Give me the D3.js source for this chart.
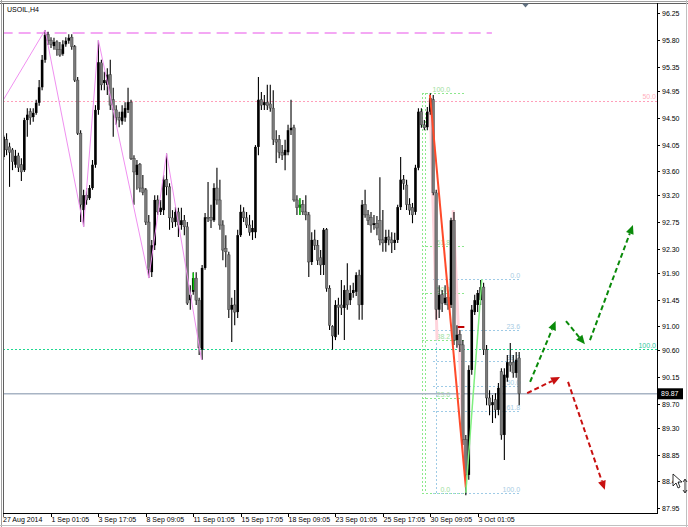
<!DOCTYPE html>
<html><head><meta charset="utf-8">
<script src="https://cdn.jsdelivr.net/npm/d3@7"></script>
<style>body{margin:0;background:#fff;} svg{display:block;} text{font-family:"Liberation Sans",Arial,sans-serif;}</style>
</head><body><svg id="c" width="688" height="527"></svg>
<script>
// ---------- DATA ----------
const symbolTitle = "USOIL,H4";
const opens = [93.84,94.13,94.01,93.96,93.71,93.86,93.71,93.62,94.46,94.60,
94.51,94.58,94.75,95.01,95.47,95.89,95.80,95.70,95.77,95.64,
95.57,95.73,95.79,95.85,95.69,95.13,94.24,92.95,93.20,93.15,
93.32,93.71,94.63,95.42,95.08,95.05,95.22,94.80,94.63,94.50,
94.44,94.50,94.63,94.76,93.82,93.54,93.71,93.32,93.29,92.75,
91.91,92.36,93.12,92.92,92.95,93.46,93.34,92.82,92.75,92.92,
92.70,92.78,92.67,91.44,91.58,91.81,91.44,90.61,91.98,92.83,
92.83,92.78,93.32,93.12,92.70,92.31,92.20,91.28,91.36,91.24,
92.53,92.92,92.82,92.70,92.58,92.58,94.01,94.80,94.71,94.76,
94.73,94.66,94.13,94.13,93.92,93.87,93.92,94.29,94.33,93.12,
92.99,93.04,92.92,92.87,92.08,92.45,92.36,92.15,92.03,92.62,
91.64,91.00,90.82,91.36,91.36,91.31,91.61,91.44,91.56,91.58,
91.86,91.36,93.04,92.87,92.83,92.70,92.73,92.78,92.45,92.40,
92.50,92.45,92.40,92.45,93.00,93.46,93.37,93.04,92.99,92.92,
93.66,94.60,94.38,94.34,94.60,94.80,93.24,91.28,91.53,91.39,
91.48,91.36,92.78,90.77,90.86,90.69,89.10,88.51,90.27,91.24,
91.36,91.44,91.66,90.61,89.80,89.68,89.77,89.60,90.24,89.18,
90.14,90.40,90.40,90.22,90.47];
const highs = [94.21,94.24,94.08,93.99,93.96,93.91,93.82,94.50,94.66,94.66,
94.66,94.80,95.13,95.55,95.97,95.94,95.85,95.84,95.80,95.77,
95.80,95.85,95.90,95.90,95.72,95.18,94.29,93.29,93.32,93.37,
93.79,94.71,95.80,95.47,95.27,95.33,95.47,95.00,94.71,94.60,
94.71,94.76,95.00,94.80,93.87,93.79,93.74,93.54,93.32,92.87,
92.45,93.20,93.20,93.12,93.54,93.90,93.40,92.95,93.00,92.99,
92.99,92.87,92.75,91.69,91.91,91.91,91.48,92.03,92.90,93.42,
93.04,93.40,93.66,93.46,92.78,92.53,92.25,91.48,91.61,92.62,
93.04,93.00,92.92,92.87,92.78,94.04,95.18,94.93,94.88,95.05,
95.05,94.96,94.29,94.21,94.04,94.13,94.38,94.80,94.38,93.20,
93.15,93.12,93.20,92.92,92.58,92.62,92.45,92.28,92.65,92.65,
91.69,91.02,91.44,91.48,91.78,91.69,92.06,91.69,91.73,91.91,
91.95,93.12,93.29,92.95,92.92,92.87,92.85,93.50,92.95,92.62,
92.62,92.58,92.57,93.04,93.84,93.54,93.46,93.15,93.07,93.71,
94.66,94.66,94.46,94.68,94.91,94.88,93.29,91.69,91.61,91.69,
91.58,92.82,92.92,91.02,90.94,90.77,89.18,90.35,91.36,91.53,
91.61,91.78,91.73,90.69,89.93,89.85,89.88,90.05,90.30,90.30,
90.52,90.72,90.52,90.57,90.57];
const lows = [93.79,93.87,93.34,93.62,93.66,93.59,93.44,93.59,94.18,94.38,
94.43,94.55,94.70,94.96,95.42,95.72,95.67,95.64,95.54,95.52,
95.54,95.69,95.74,95.64,95.10,94.21,92.75,92.67,93.04,93.12,
93.29,93.66,94.55,94.96,94.96,94.88,94.63,94.18,94.38,94.34,
94.38,94.43,94.58,93.79,93.04,93.29,93.25,93.20,92.70,91.81,
91.83,92.28,92.87,92.87,92.87,93.20,92.62,92.65,92.67,92.50,
92.62,92.53,91.36,91.28,91.53,91.36,90.52,90.44,91.95,92.75,
92.65,92.75,93.04,92.62,92.11,91.99,91.14,90.74,91.02,91.14,
92.50,92.75,92.65,92.52,92.45,92.48,93.87,94.63,94.63,94.63,
94.60,94.04,93.74,93.82,93.79,93.62,93.87,94.21,93.09,92.87,
92.87,92.87,92.78,91.83,92.03,92.28,92.03,91.86,91.86,91.58,
90.94,90.61,90.77,90.86,91.19,90.77,91.28,91.36,91.48,91.51,
91.11,91.11,92.82,92.70,92.57,92.62,92.53,92.36,92.25,92.25,
92.36,92.23,92.28,92.40,92.95,93.29,92.95,92.87,92.73,92.87,
93.62,94.33,94.29,94.29,94.55,93.20,91.11,91.14,91.24,91.36,
91.28,91.31,90.69,90.64,90.57,89.01,88.17,88.43,90.19,91.19,
91.24,91.36,90.52,89.68,89.51,89.38,89.46,89.51,89.10,88.76,
90.07,90.24,90.14,90.14,89.68];
const closes = [94.18,93.96,93.92,93.76,93.86,93.66,93.59,94.46,94.55,94.50,
94.58,94.75,95.01,95.47,95.89,95.80,95.73,95.77,95.64,95.55,
95.73,95.79,95.84,95.69,95.13,94.24,93.04,93.20,93.12,93.32,
93.71,94.63,95.43,95.05,95.13,95.22,94.71,94.63,94.50,94.46,
94.60,94.66,94.76,93.82,93.59,93.71,93.32,93.25,92.75,91.95,
92.36,93.12,92.92,92.99,93.46,93.34,92.82,92.75,92.92,92.70,
92.78,92.67,91.39,91.53,91.81,91.44,90.64,91.98,92.83,92.82,
92.78,93.32,93.12,92.70,92.28,92.25,91.28,91.36,91.24,92.53,
92.92,92.82,92.70,92.58,92.65,94.01,94.80,94.71,94.76,94.70,
94.66,94.13,94.09,93.92,93.87,93.96,94.29,94.33,93.12,92.99,
93.04,92.92,92.87,92.08,92.45,92.36,92.11,92.03,92.62,91.64,
91.02,90.84,91.36,91.32,91.31,91.61,91.36,91.56,91.61,91.86,
91.36,93.04,92.87,92.78,92.70,92.73,92.65,92.45,92.40,92.50,
92.45,92.40,92.45,93.00,93.46,93.40,93.04,92.95,92.87,93.66,
94.60,94.38,94.33,94.60,94.83,93.24,91.28,91.53,91.39,91.48,
91.36,92.78,90.77,90.86,90.69,89.10,88.51,90.27,91.28,91.44,
91.56,91.66,90.61,89.80,89.68,89.73,89.60,89.97,89.18,90.19,
90.40,90.35,90.22,90.44,89.87];
const currentPrice = 89.87;
const yTickValues = [96.25,95.80,95.35,94.95,94.50,94.05,93.60,93.20,92.75,92.30,91.90,91.45,91.00,90.60,90.15,89.70,89.30,88.85,88.40,87.95];
const yTickLabels = ["96.25","95.80","95.35","94.95","94.50","94.05","93.60","93.20","92.75","92.30","91.90","91.45","91.00","90.60","90.15","89.70","89.30","88.85","88.40","87.95"];
const xTickIndex = [0,16,32,48,64,80,96,112,128,144,160];
const xTickLabels = ["27 Aug 2014","1 Sep 01:05","3 Sep 17:05","8 Sep 09:05","11 Sep 01:05","15 Sep 17:05","18 Sep 09:05","23 Sep 01:05","25 Sep 17:05","30 Sep 09:05","3 Oct 01:05"];
// drawn objects (bar index, price)
const zigzagPoints = [[-0.3,94.78],[14,95.97],[27,92.67],[32,95.80],[49,91.81],[55,93.90],[66.8,90.44]];
const topDashedLine = {from:-1, to:164.8, price:95.92};
const pinkLevel = {price:94.78, label:"50.0"};
const tealLevel = {price:90.62, label:"100.0"};
const fibLevels = [0,23.6,38.2,50,61.8,100];
const fibGreen = {from:141.2, to:156.1, labelAt:150.7, p0:88.21, p100:94.91, verticals:[141.2,142.2]};
const fibBlue = {from:144.9, to:174.3, labelAt:174.3, p0:91.79, p100:88.21, verticals:[145.9]};
const redTrend = [[143.9,94.88],[156.0,88.30]];
const greenTrend = [[156.0,88.21],[161.4,91.79]];
const pinkShades = [[[143.9,94.80],[146.3,90.77]],[[151.7,92.95],[155.6,88.60]]];
const greenMarks = [[64,91.90,91.61],[100,93.15,92.87]];
const redMark = [153.3,155.5,90.99];
const greenArrows = [[[177.7,90.07],[186.3,91.09]],[[189.8,91.09],[196.2,90.70]],[[197.9,90.77],[212.4,92.70]]];
const redArrows = [[[176.7,89.88],[187.8,90.15]],[[190.5,90.07],[202.9,88.26]]];

// ---------- DRAW ----------
const W=688,H=527;
const plot={l:3,t:4,r:657,b:513};
const x=d3.scaleLinear().domain([0,220]).range([3.6,3.6+220*2.963]);
const y=d3.scaleLinear().domain([87.95,96.25]).range([508.3,13.3]);
const svg=d3.select('#c');
svg.append('rect').attr('width',W).attr('height',H).attr('fill','#fff');
// window frame
svg.append('line').attr('x1',0).attr('x2',W).attr('y1',1.5).attr('y2',1.5).attr('stroke','#a0a0a0').attr('stroke-width',1);
svg.append('line').attr('x1',0).attr('x2',W).attr('y1',3.5).attr('y2',3.5).attr('stroke','#606060').attr('stroke-width',1);
svg.append('line').attr('x1',1.5).attr('x2',1.5).attr('y1',0).attr('y2',H).attr('stroke','#a0a0a0');
svg.append('line').attr('x1',3.5).attr('x2',3.5).attr('y1',3).attr('y2',517).attr('stroke','#606060');
svg.append('line').attr('x1',0).attr('x2',W).attr('y1',525.5).attr('y2',525.5).attr('stroke','#c0c0c0');
svg.append('line').attr('x1',686.5).attr('x2',686.5).attr('y1',0).attr('y2',H).attr('stroke','#c0c0c0');

const defs=svg.append('defs');
defs.append('clipPath').attr('id','clip').append('rect').attr('x',plot.l+1).attr('y',plot.t).attr('width',plot.r-plot.l-1).attr('height',plot.b-plot.t);
const g=svg.append('g').attr('clip-path','url(#clip)');
const line=d3.line().x(d=>x(d[0])).y(d=>y(d[1]));

// horizontal levels (background)
g.append('line').attr('x1',x(topDashedLine.from)).attr('x2',x(topDashedLine.to)).attr('y1',y(topDashedLine.price)).attr('y2',y(topDashedLine.price))
 .attr('stroke','#f4a8f4').attr('stroke-width',2).attr('stroke-dasharray','12,6');
g.append('line').attr('x1',plot.l).attr('x2',plot.r).attr('y1',Math.round(y(pinkLevel.price))+0.5).attr('y2',Math.round(y(pinkLevel.price))+0.5)
 .attr('stroke','#ff9fba').attr('stroke-dasharray','2,2').attr('shape-rendering','crispEdges');
g.append('line').attr('x1',plot.l).attr('x2',plot.r).attr('y1',Math.round(y(tealLevel.price))+0.5).attr('y2',Math.round(y(tealLevel.price))+0.5)
 .attr('stroke','#1fd890').attr('stroke-dasharray','2,2').attr('shape-rendering','crispEdges');
g.append('text').attr('x',plot.r-1).attr('y',y(pinkLevel.price)-1.5).attr('text-anchor','end').attr('font-size',7).attr('fill','#ffb0c0').text(pinkLevel.label);
g.append('text').attr('x',plot.r-1).attr('y',y(tealLevel.price)-1.5).attr('text-anchor','end').attr('font-size',7).attr('fill','#30c8a0').text(tealLevel.label);

// fib objects
function drawFib(f,color,tcolor){
  const gg=g.append('g').attr('shape-rendering','crispEdges');
  fibLevels.forEach(L=>{
    const p=f.p0+(f.p100-f.p0)*L/100, yy=Math.round(y(p))+0.5;
    gg.append('line').attr('x1',x(f.from)).attr('x2',x(f.to)).attr('y1',yy).attr('y2',yy).attr('stroke',color).attr('stroke-dasharray','2,2');
    gg.append('text').attr('x',x(f.labelAt)).attr('y',yy-1.5).attr('text-anchor','end').attr('font-size',7).attr('fill',tcolor).text(L.toFixed(1));
  });
  f.verticals.forEach(v=>{
    gg.append('line').attr('x1',Math.round(x(v))+0.5).attr('x2',Math.round(x(v))+0.5).attr('y1',y(Math.max(f.p0,f.p100))).attr('y2',y(Math.min(f.p0,f.p100)))
      .attr('stroke',color).attr('stroke-dasharray','2,2');
  });
}
drawFib(fibGreen,'#8de88d','#9ee09e');
drawFib(fibBlue,'#9fcbe6','#a8cce4');

// current price line
g.append('line').attr('x1',plot.l).attr('x2',plot.r).attr('y1',y(currentPrice)).attr('y2',y(currentPrice)).attr('stroke','#a8b4c4').attr('stroke-width',1.5);

// pink shading lines
pinkShades.forEach(s=>g.append('path').attr('d',line(s)).attr('fill','none').attr('stroke','#ffd4dc').attr('stroke-width',3));

// candles
const idx=d3.range(opens.length);
const cg=g.append('g');
cg.selectAll('line.w').data(idx).join('line').attr('class','w')
  .attr('x1',i=>x(i)).attr('x2',i=>x(i)).attr('y1',i=>y(highs[i])).attr('y2',i=>y(lows[i]))
  .attr('stroke','#000').attr('stroke-width',1.1);
cg.selectAll('rect.b').data(idx).join('rect').attr('class','b')
  .attr('x',i=>x(i)-1.3).attr('width',2.6)
  .attr('y',i=>y(Math.max(opens[i],closes[i])))
  .attr('height',i=>Math.max(1,Math.abs(y(opens[i])-y(closes[i]))))
  .attr('fill',i=>closes[i]>=opens[i]?'#000':'#7a7a7a')
  .attr('stroke',i=>closes[i]>=opens[i]?'none':'#333')
  .attr('stroke-width',0.4);

// marks
greenMarks.forEach(m=>g.append('line').attr('x1',x(m[0])).attr('x2',x(m[0])).attr('y1',y(m[1])).attr('y2',y(m[2])).attr('stroke','#00e000').attr('stroke-width',1.2));
g.append('line').attr('x1',x(redMark[0])).attr('x2',x(redMark[1])).attr('y1',y(redMark[2])).attr('y2',y(redMark[2])).attr('stroke','#c00000').attr('stroke-width',2);

// zigzag
g.append('path').attr('d',line(zigzagPoints)).attr('fill','none').attr('stroke','#f090f0').attr('stroke-width',1);
// trend lines
g.append('path').attr('d',line(redTrend)).attr('fill','none').attr('stroke','#ff4a2a').attr('stroke-width',2);
g.append('path').attr('d',line(greenTrend)).attr('fill','none').attr('stroke','#80f080').attr('stroke-width',1.5);

// arrows
function arrow(a,color){
  const x1=x(a[0][0]),y1=y(a[0][1]),x2=x(a[1][0]),y2=y(a[1][1]);
  const ang=Math.atan2(y2-y1,x2-x1), L=9, Wd=4;
  const bx=x2-L*Math.cos(ang), by=y2-L*Math.sin(ang);
  g.append('line').attr('x1',x1).attr('y1',y1).attr('x2',bx).attr('y2',by).attr('stroke',color).attr('stroke-width',2).attr('stroke-dasharray','5,3');
  const px=-Math.sin(ang)*Wd, py=Math.cos(ang)*Wd;
  g.append('path').attr('d',`M${x2},${y2}L${bx+px},${by+py}L${bx-px},${by-py}Z`).attr('fill',color);
}
greenArrows.forEach(a=>arrow(a,'#0a8a0a'));
redArrows.forEach(a=>arrow(a,'#c81010'));

// axes lines
svg.append('line').attr('x1',plot.r+0.5).attr('x2',plot.r+0.5).attr('y1',3).attr('y2',plot.b+1).attr('stroke','#000');
svg.append('line').attr('x1',3).attr('x2',plot.r+1).attr('y1',plot.b+0.5).attr('y2',plot.b+0.5).attr('stroke','#000');

// y axis
const yAxisG=svg.append('g');
yTickValues.forEach((v,k)=>{
  const yy=Math.round(y(v))+0.5;
  yAxisG.append('line').attr('x1',plot.r).attr('x2',plot.r+3).attr('y1',yy).attr('y2',yy).attr('stroke','#000');
  yAxisG.append('text').attr('x',plot.r+5).attr('y',yy+2.5).attr('font-size',7).attr('fill','#000').text(yTickLabels[k]);
});
// current price box
const cy=y(currentPrice);
svg.append('rect').attr('x',plot.r+1).attr('y',cy-5.5).attr('width',25).attr('height',11).attr('fill','#000');
svg.append('text').attr('x',plot.r+4).attr('y',cy+2.5).attr('font-size',7).attr('fill','#fff').text(currentPrice.toFixed(2));

// x axis
xTickIndex.forEach((iv,k)=>{
  const xx=Math.round(x(iv))+0.5;
  if(k>0) svg.append('line').attr('x1',xx).attr('x2',xx).attr('y1',plot.b).attr('y2',plot.b+4).attr('stroke','#000');
  svg.append('text').attr('x',k===0?3:xx).attr('y',522).attr('font-size',7).attr('fill','#000').text(xTickLabels[k]);
});

// title
svg.append('text').attr('x',7).attr('y',12).attr('font-size',7).attr('fill','#000').text(symbolTitle);
// chart shift marker
svg.append('path').attr('d','M522,3.5L529,3.5L525.5,7.5Z').attr('fill','#607080');
// mouse cursor
svg.append('path').attr('d','M673,474L673,486L676,483L678,488L680,487L678,482L682,482Z').attr('fill','#fff').attr('stroke','#000').attr('stroke-width',0.8);
svg.append('path').attr('d','M685,480L685,492M683,482L685,479L687,482M683,490L685,493L687,490').attr('fill','none').attr('stroke','#000').attr('stroke-width',0.8);
</script></body></html>
